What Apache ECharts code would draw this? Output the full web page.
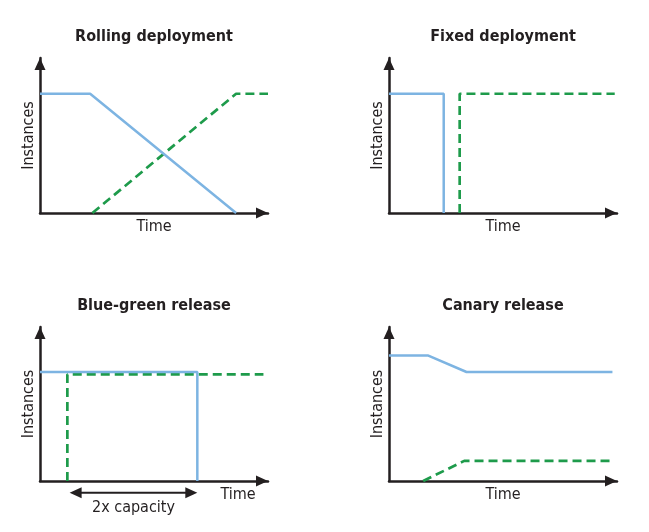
<!DOCTYPE html>
<html>
<head>
<meta charset="utf-8">
<script src="https://cdn.jsdelivr.net/npm/echarts@6/dist/echarts.min.js"></script>
<style>
html,body{margin:0;padding:0;background:#fff;}
#chart{width:649px;height:532px;}
</style>
</head>
<body>
<div id="chart"></div>
<script>
// ---- data ----
const panelTitles = ['Rolling deployment', 'Fixed deployment', 'Blue-green release', 'Canary release'];
const xAxisName = 'Time';
const yAxisName = 'Instances';

// [time, instances] — old version (blue, solid)
const rollingOld = [[0, 100], [22, 100], [86, 0]];
const fixedOld = [[0, 100], [24, 100], [24, 0]];
const blueGreenOld = [[0, 92], [69, 92], [69, 0]];
const canaryOld = [[0, 106], [17, 106], [34, 92], [98, 92]];

// new version (green, dashed)
const rollingNew = [[23, 0], [86, 100], [100, 100]];
const fixedNew = [[31, 0], [31, 100], [99, 100]];
const blueGreenNew = [[12, 0], [12, 90], [98, 90]];
const canaryNew = [[15, 0], [33, 17], [98, 17]];

// "2x capacity" interval in blue-green release
const capacityRange = [13, 69];
const capacityLevel = -10;
const capacityLabel = '2x capacity';

const oldSeries = [rollingOld, fixedOld, blueGreenOld, canaryOld];
const newSeries = [rollingNew, fixedNew, blueGreenNew, canaryNew];

// ---- style ----
const FONT = '"Liberation Sans Narrow", "DejaVu Sans Condensed", "Roboto Condensed", sans-serif';
const FS = 16;
const INK = '#231f20';
const BLUE = '#7db4e2';
const GREEN = '#1e9b4b';

const grids = [
  { left: 40, top: 58, width: 228, height: 155 },
  { left: 389, top: 58, width: 228, height: 155 },
  { left: 40, top: 327, width: 228, height: 154 },
  { left: 389, top: 327, width: 228, height: 154 }
];
const titlePos = [
  { left: 154, top: 29 }, { left: 503, top: 29 },
  { left: 154, top: 298 }, { left: 503, top: 298 }
];

const axisLine = {
  show: true,
  symbol: ['none', 'triangle'],
  symbolSize: [11, 12],
  symbolOffset: [0, -6],
  lineStyle: { color: INK, width: 2.5 }
};

const option = {
  animation: false,
  backgroundColor: '#fff',
  title: panelTitles.map((t, i) => ({
    text: t,
    left: titlePos[i].left,
    top: titlePos[i].top,
    textAlign: 'center',
    padding: 0,
    textStyle: { fontFamily: FONT, fontSize: FS, fontWeight: 'bold', color: INK, lineHeight: FS }
  })),
  grid: grids.map(g => Object.assign({ outerBoundsMode: 'none', containLabel: false }, g)),
  xAxis: grids.map((g, i) => ({
    type: 'value', gridIndex: i, min: 0, max: 100,
    name: xAxisName,
    nameLocation: i === 2 ? 'end' : 'middle',
    nameGap: i === 2 ? -30 : 5.5,
    nameTextStyle: i === 2
      ? { fontFamily: FONT, fontSize: FS, color: INK, align: 'center', verticalAlign: 'top', padding: [5.5, 0, 0, 0], lineHeight: FS }
      : { fontFamily: FONT, fontSize: FS, color: INK, lineHeight: FS },
    axisLine: axisLine,
    axisTick: { show: false },
    axisLabel: { show: false },
    splitLine: { show: false }
  })),
  yAxis: grids.map((g, i) => ({
    type: 'value', gridIndex: i, min: 0, max: 130,
    name: yAxisName,
    nameLocation: 'middle',
    nameGap: 3,
    nameTextStyle: { fontFamily: FONT, fontSize: FS, color: INK, lineHeight: FS },
    axisLine: axisLine,
    axisTick: { show: false },
    axisLabel: { show: false },
    splitLine: { show: false }
  })),
  series: []
};

for (let i = 0; i < 4; i++) {
  option.series.push({
    type: 'line', xAxisIndex: i, yAxisIndex: i,
    data: newSeries[i], showSymbol: false, symbol: 'none', silent: true, clip: false,
    lineStyle: { color: GREEN, width: 2.7, type: [9, 5] }, z: 2
  });
  option.series.push({
    type: 'line', xAxisIndex: i, yAxisIndex: i,
    data: oldSeries[i], showSymbol: false, symbol: 'none', silent: true, clip: false,
    lineStyle: { color: BLUE, width: 2.5 }, z: 3
  });
}

option.series.push({
  type: 'custom', xAxisIndex: 2, yAxisIndex: 2, clip: false, silent: true,
  data: [[capacityRange[0], capacityLevel, capacityRange[1]]],
  renderItem: function (params, api) {
    const a = api.coord([api.value(0), api.value(1)]);
    const b = api.coord([api.value(2), api.value(1)]);
    const L = 12, H = 5.5;
    return {
      type: 'group',
      children: [
        { type: 'line', shape: { x1: a[0] + L - 1, y1: a[1], x2: b[0] - L + 1, y2: b[1] }, style: { stroke: INK, lineWidth: 2 } },
        { type: 'polygon', shape: { points: [[a[0], a[1]], [a[0] + L, a[1] - H], [a[0] + L, a[1] + H]] }, style: { fill: INK } },
        { type: 'polygon', shape: { points: [[b[0], b[1]], [b[0] - L, b[1] - H], [b[0] - L, b[1] + H]] }, style: { fill: INK } },
        { type: 'text', x: (a[0] + b[0]) / 2, y: a[1] + 7.4,
          style: { text: capacityLabel, align: 'center', verticalAlign: 'top', fontFamily: FONT, fontSize: FS, fill: INK, lineHeight: FS } }
      ]
    };
  }
});

const chart = echarts.init(document.getElementById('chart'), null, { renderer: 'canvas' });
chart.setOption(option);
</script>
</body>
</html>
